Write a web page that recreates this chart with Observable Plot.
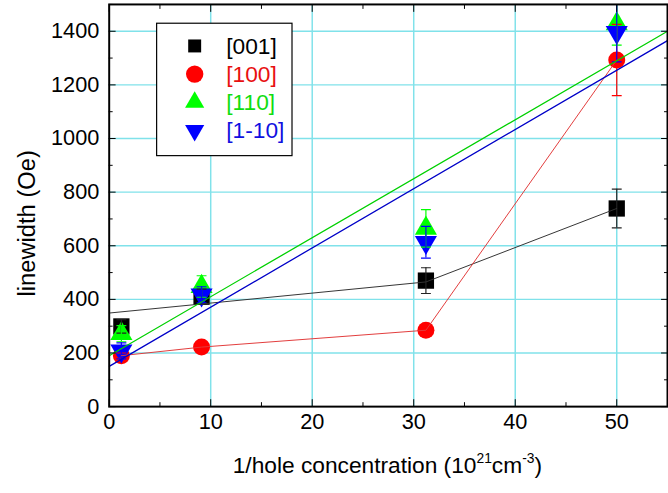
<!DOCTYPE html>
<html><head><meta charset="utf-8">
<script src="https://cdn.jsdelivr.net/npm/d3@7"></script>
<script src="https://cdn.jsdelivr.net/npm/@observablehq/plot@0.6"></script>
<style>html,body{margin:0;padding:0;overflow:hidden;background:#fff;width:668px;height:493px}</style>
</head><body><div id="chart"></div>
<script>
// ---- data ----
const conc = [1.2, 9.1, 31.2, 50];
const names = ["[001]", "[100]", "[110]", "[1-10]"];
const lw001 = [299, 410, 470, 739];
const err001 = [25, 28, 48, 72];
const lw100 = [190, 222, 285, 1293];
const err100 = [10, 10, 10, 133];
const lw110 = [272, 448, 665, 1428];
const err110 = [30, 40, 70, 80];
const lw1m10 = [208, 417, 613, 1396];
const err1m10 = [30, 30, 59, 110];
const line001X = [0, 31.2, 50];
const line001Y = [349, 465, 739];
const fitX = [0, 55];
const fit110Y = [190, 1400];
const fit1m10Y = [150, 1365];
const xTicks = [0, 10, 20, 30, 40, 50];
const xMinor = [5, 15, 25, 35, 45, 55];
const xGrid = [10, 20, 30, 40, 50];
const yTicks = [0, 200, 400, 600, 800, 1000, 1200, 1400];
const yMinor = [100, 300, 500, 700, 900, 1100, 1300, 1500];
const yGrid = [200, 400, 600, 800, 1000, 1200, 1400];

// ---- styles ----
const markColors = ["#000000", "#ff0000", "#00ff00", "#0000ff"];
const textColors = ["#000000", "#e81010", "#10dd10", "#1010e0"];
const lineColors = ["#333333", "#e23b3b", "#00d000", "#0000c8"];
const gridColor = "#80e2ea";

const triDown = {
  draw(ctx, size) {
    const y = Math.sqrt(size / (3 * Math.sqrt(3)));
    ctx.moveTo(0, 2 * y);
    ctx.lineTo(Math.sqrt(3) * y, -y);
    ctx.lineTo(-Math.sqrt(3) * y, -y);
    ctx.closePath();
  }
};
const cap = { draw(ctx) { ctx.moveTo(-5, 0); ctx.lineTo(5, 0); } };
const symbols = ["square", "circle", "triangle", triDown];
const radii = [9.3, 8.6, 8.3, 8.3];

const vals = [lw001, lw100, lw110, lw1m10];
const errs = [err001, err100, err110, err1m10];
const rows = vals.map((v, i) => conc.map((x, j) => ({ x, y: v[j], lo: v[j] - errs[i][j], hi: v[j] + errs[i][j] })));

const pairs = (xs, ys) => xs.map((x, i) => ({ x, y: ys[i] }));
const lines = [pairs(line001X, line001Y), pairs(conc, lw100), pairs(fitX, fit110Y), pairs(fitX, fit1m10Y)];

const marks = [
  Plot.gridX(xGrid, { stroke: gridColor, strokeOpacity: 1, strokeWidth: 1.5 }),
  Plot.gridY(yGrid, { stroke: gridColor, strokeOpacity: 1, strokeWidth: 1.5 }),
];
rows.forEach((r, i) => marks.push(Plot.dot(r, { x: "x", y: "y", symbol: symbols[i], r: radii[i], fill: markColors[i], stroke: "none" })));
rows.forEach((r, i) => {
  const c = i === 0 ? "#222" : markColors[i];
  marks.push(Plot.ruleX(r, { x: "x", y1: "lo", y2: "hi", stroke: c, strokeWidth: 1.2, clip: true }));
  marks.push(Plot.dot(r, { x: "x", y: "lo", symbol: cap, r: 3, fill: "none", stroke: c, strokeWidth: 1.2, clip: true }));
  marks.push(Plot.dot(r, { x: "x", y: "hi", symbol: cap, r: 3, fill: "none", stroke: c, strokeWidth: 1.2, clip: true }));
});
lines.forEach((l, i) => marks.push(Plot.line(l, { x: "x", y: "y", stroke: lineColors[i], strokeWidth: i < 2 ? 1 : 1.3, clip: true })));
const fmt = d => String(d);
marks.push(
  Plot.axisX(xTicks, { anchor: "bottom", tickSize: -7, tickPadding: 14, fontSize: 22, tickFormat: fmt, label: null }),
  Plot.axisX(xMinor, { anchor: "bottom", tickSize: -4, tickFormat: () => "", label: null }),
  Plot.axisX(xTicks, { anchor: "top", tickSize: -7, tickFormat: () => "", label: null }),
  Plot.axisX(xMinor, { anchor: "top", tickSize: -4, tickFormat: () => "", label: null }),
  Plot.axisY(yTicks, { anchor: "left", tickSize: -7, tickPadding: 17, fontSize: 22, tickFormat: fmt, label: null }),
  Plot.axisY(yMinor, { anchor: "left", tickSize: -4, tickFormat: () => "", label: null }),
  Plot.axisY(yTicks, { anchor: "right", tickSize: -7, tickFormat: () => "", label: null }),
  Plot.axisY(yMinor, { anchor: "right", tickSize: -4, tickFormat: () => "", label: null }),
  Plot.frame({ stroke: "black", strokeWidth: 2 })
);

const chart = Plot.plot({
  width: 676, height: 493,
  marginLeft: 110, marginRight: 1, marginTop: 4, marginBottom: 82,
  x: { domain: [0, 55], label: null },
  y: { domain: [0, 1500], label: null },
  style: { fontFamily: "'Liberation Sans', Arial, sans-serif", fontSize: "22px", color: "black", background: "white" },
  marks
});
document.getElementById("chart").appendChild(chart);

// ---- axis titles and legend ----
const svg = d3.select(chart);
svg.append("text").attr("transform", "translate(27,226) rotate(-90)")
  .attr("text-anchor", "middle").attr("dominant-baseline", "central")
  .attr("font-size", 24).attr("fill", "black").text("linewidth (Oe)");
const xt = svg.append("text").attr("x", 392).attr("y", 479).attr("text-anchor", "middle")
  .attr("font-size", 23).attr("fill", "black");
xt.append("tspan").text("1/hole concentration (10");
xt.append("tspan").attr("font-size", 14).attr("dy", -10).text("21");
xt.append("tspan").attr("dy", 10).text("cm");
xt.append("tspan").attr("font-size", 14).attr("dy", -10).text("-3");
xt.append("tspan").attr("dy", 10).text(")");

const lg = svg.append("g");
lg.append("rect").attr("x", 158.5).attr("y", 23.5).attr("width", 137).attr("height", 134)
  .attr("fill", "white").attr("stroke", "black").attr("stroke-width", 1.2);
const legSyms = [d3.symbolSquare, d3.symbolCircle, d3.symbolTriangle, triDown];
const legR = [7.4, 8.8, 7.2, 7.2];
names.forEach((n, i) => {
  const cy = 46.5 + i * 28.5;
  lg.append("path").attr("transform", `translate(197,${cy})`)
    .attr("d", d3.symbol(legSyms[i], Math.PI * legR[i] * legR[i])()).attr("fill", markColors[i]);
  lg.append("text").attr("x", 229).attr("y", cy).attr("text-anchor", "start").attr("dominant-baseline", "central")
    .attr("font-size", 23).attr("fill", textColors[i]).text(n);
});
</script>
</body></html>
